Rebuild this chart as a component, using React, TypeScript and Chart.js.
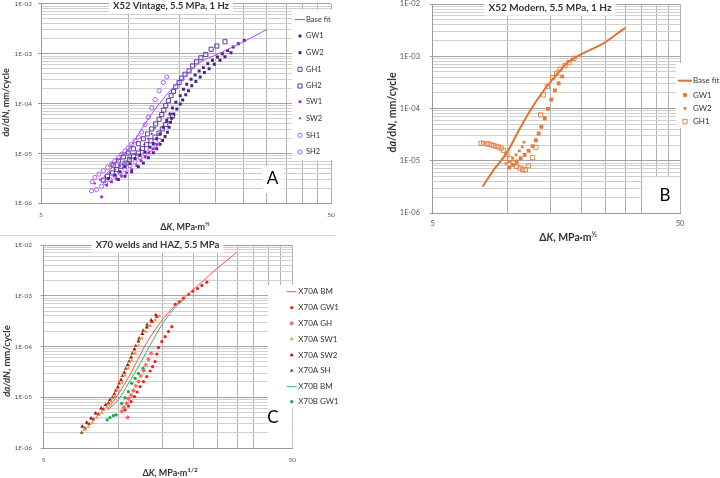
import React, { useEffect, useRef } from 'react';
import { Chart, registerables } from 'chart.js';

Chart.register(...registerables);

// ---------------- axes ----------------
const X_GRID = [5, 10, 15, 20, 25, 30, 35, 40, 45, 50];
const X_LABELED = [5, 50];
const Y_DECADES = [1e-6, 1e-5, 1e-4, 1e-3, 1e-2];
const Y_TICK_LABELS = ['1E-06', '1E-05', '1E-04', '1E-03', '1E-02'];
const Y_MINOR_MULT = [2, 3, 4, 5, 6, 7, 8, 9];

// ---------------- Panel A: X52 Vintage ----------------
const A_FIT_K = [8.2, 9.2, 10.2, 11.5, 12.8, 14.1, 15.8, 17.8, 20.3, 25.2, 30.0];
const A_FIT_Y = [3.2e-6, 7.2e-6, 1.4e-5, 4.2e-5, 1.0e-4, 1.95e-4, 3.7e-4, 6.9e-4, 9.8e-4, 1.79e-3, 3.06e-3];
const A_GW1_K = [8.53, 8.99, 9.36, 9.74, 10.13, 10.55, 10.97, 11.42, 11.88, 12.2, 12.53, 12.87, 13.2, 13.57, 13.93, 14.2, 14.58, 15.1, 15.5, 15.9, 16.46, 17.0, 17.55, 18.15, 18.8, 19.5, 20.3, 21.1, 22.0, 23.0, 23.95, 25.1];
const A_GW1_Y = [3.14e-6, 3.66e-6, 4.27e-6, 5.4e-6, 6.2e-6, 7.9e-6, 9.2e-6, 1.07e-5, 1.34e-5, 1.57e-5, 1.97e-5, 2.47e-5, 3.36e-5, 4.56e-5, 6.2e-5, 8.2e-5, 1.06e-4, 1.44e-4, 1.95e-4, 2.45e-4, 3.09e-4, 3.76e-4, 4.52e-4, 5.27e-4, 6.3e-4, 7.4e-4, 8.6e-4, 1.0e-3, 1.16e-3, 1.36e-3, 1.59e-3, 1.85e-3];
const A_GW2_K = [9.24, 9.74, 10.27, 10.83, 11.27, 11.72, 12.2, 12.53, 12.87, 13.14, 13.39, 13.64, 13.82, 13.97, 14.12, 14.35, 14.7, 15.1, 15.4, 15.78, 16.12, 16.55, 17.1, 17.7, 18.3, 19.0, 19.8, 20.7, 21.55, 22.6];
const A_GW2_Y = [3.0e-6, 3.5e-6, 4.27e-6, 5.4e-6, 6.4e-6, 8.2e-6, 1.03e-5, 1.24e-5, 1.52e-5, 1.82e-5, 2.19e-5, 2.67e-5, 3.36e-5, 4.2e-5, 5.1e-5, 6.2e-5, 7.8e-5, 9.8e-5, 1.18e-4, 1.51e-4, 1.81e-4, 2.28e-4, 2.77e-4, 3.43e-4, 4.19e-4, 5.0e-4, 6.14e-4, 7.4e-4, 8.7e-4, 1.05e-3];
const A_GH1_K = [21.55, 20.2, 19.3, 18.5, 17.8, 17.2, 16.65, 16.2, 15.69, 15.29, 14.97, 14.58, 14.31, 14.05, 13.75, 13.46, 13.25, 13.04, 12.77, 12.43, 12.04, 11.66, 11.27, 10.83, 10.41, 10.0, 9.61, 9.24, 8.87];
const A_GH1_Y = [1.74e-3, 1.43e-3, 1.23e-3, 9.7e-4, 8.3e-4, 6.9e-4, 5.7e-4, 4.52e-4, 3.88e-4, 3.23e-4, 2.65e-4, 2.17e-4, 1.76e-4, 1.44e-4, 1.14e-4, 9.1e-5, 7.4e-5, 6.0e-5, 4.85e-5, 3.91e-5, 3.1e-5, 2.47e-5, 1.97e-5, 1.57e-5, 1.24e-5, 1.02e-5, 8.5e-6, 7.1e-6, 5.8e-6];
const A_GH2_K = [8.2, 8.48, 8.8, 9.11, 9.43, 9.74, 10.08, 10.43, 10.83, 11.18, 11.56, 11.97, 12.36, 12.77, 13.1, 13.46, 13.82, 14.2];
const A_GH2_Y = [2.91e-6, 3.5e-6, 4.07e-6, 4.75e-6, 5.55e-6, 6.4e-6, 7.6e-6, 8.8e-6, 1.02e-5, 1.26e-5, 1.5e-5, 1.79e-5, 2.13e-5, 2.55e-5, 3.11e-5, 3.8e-5, 4.72e-5, 5.7e-5];
const A_SW1_K = [8.09, 8.42, 8.75, 9.11, 9.48, 9.87, 10.27, 10.69, 11.06, 11.42, 11.78, 12.2, 12.53];
const A_SW1_Y = [1.35e-6, 2.31e-6, 2.7e-6, 3.1e-6, 3.5e-6, 4.07e-6, 4.75e-6, 5.7e-6, 7.1e-6, 8.5e-6, 1.03e-5, 1.24e-5, 1.52e-5];
const A_SW2_K = [7.67, 7.98, 8.31, 8.65, 8.99, 9.36, 9.74, 10.13, 10.55, 10.97, 11.36, 11.72, 12.04, 12.36];
const A_SW2_Y = [2.5e-6, 2.99e-6, 3.5e-6, 4.07e-6, 4.75e-6, 5.55e-6, 6.4e-6, 7.9e-6, 9.9e-6, 1.2e-5, 1.52e-5, 1.97e-5, 2.47e-5, 3.26e-5];
const A_SH1_K = [13.57, 13.2, 12.77, 12.36, 12.04, 11.72, 11.42, 11.12, 10.83, 10.55, 10.27, 10.0, 9.74, 9.48, 9.24, 8.99, 8.75, 8.48, 8.2, 7.92, 7.67, 7.51];
const A_SH1_Y = [3.43e-4, 2.65e-4, 1.81e-4, 1.2e-4, 8.2e-5, 5.3e-5, 3.8e-5, 2.67e-5, 2.13e-5, 1.79e-5, 1.52e-5, 1.3e-5, 1.12e-5, 9.6e-6, 8.2e-6, 7.1e-6, 6.1e-6, 5.25e-6, 4.5e-6, 3.85e-6, 3.3e-6, 2.7e-6];
const A_SH2_K = [7.47, 7.77, 8.09, 8.35, 8.65, 8.99, 9.36, 9.74, 10.13, 10.55, 10.97, 11.42, 11.88, 12.36, 12.77];
const A_SH2_Y = [1.78e-6, 1.89e-6, 2.2e-6, 2.58e-6, 2.99e-6, 3.5e-6, 4.07e-6, 4.75e-6, 5.7e-6, 6.75e-6, 8.2e-6, 9.9e-6, 1.2e-5, 1.48e-5, 1.82e-5];

// ---------------- Panel B: X52 Modern ----------------
const B_FIT_K = [7.96, 8.93, 9.95, 11.27, 12.56, 13.8, 15.4, 17.4, 19.7, 24.5, 30.0];
const B_FIT_Y = [3.2e-6, 7.2e-6, 1.4e-5, 4.2e-5, 1.01e-4, 1.96e-4, 3.8e-4, 7.3e-4, 1.06e-3, 1.77e-3, 3.5e-3];
const B_GW1_K = [10.2, 10.53, 10.93, 11.34, 11.77, 12.22, 12.68, 13.07, 13.41, 13.75, 14.2, 14.62, 15.08, 15.6, 16.15, 16.7];
const B_GW1_Y = [7.4e-6, 8.35e-6, 9.67e-6, 1.12e-5, 1.3e-5, 1.55e-5, 1.9e-5, 2.47e-5, 3.32e-5, 4.45e-5, 6.51e-5, 9.8e-5, 1.48e-4, 2.23e-4, 3.04e-4, 4.08e-4];
const B_GW2_K = [9.9, 10.2, 10.53, 10.86, 11.2, 11.5, 11.7];
const B_GW2_Y = [8.86e-6, 9.67e-6, 1.12e-5, 1.3e-5, 1.55e-5, 1.84e-5, 2.26e-5];
const B_GH1_K = [7.85, 8.03, 8.27, 8.45, 8.63, 8.82, 9.01, 9.21, 9.45, 9.65, 9.96, 10.27, 10.6, 10.93, 11.27, 11.56, 11.85, 12.18, 12.68, 13.07, 13.66, 14.0, 14.54, 15.28, 15.86, 16.36, 17.13, 17.78, 18.63];
const B_GH1_Y = [2.17e-5, 2.14e-5, 2.11e-5, 2.08e-5, 2.01e-5, 1.95e-5, 1.89e-5, 1.84e-5, 1.74e-5, 1.59e-5, 1.34e-5, 1.09e-5, 9.0e-6, 7.8e-6, 7.21e-6, 6.8e-6, 6.7e-6, 8.0e-6, 1.15e-5, 1.79e-5, 7.54e-5, 1.82e-4, 2.63e-4, 3.9e-4, 4.72e-4, 5.64e-4, 6.6e-4, 7.55e-4, 9.14e-4];

// ---------------- Panel C: X70 welds and HAZ ----------------
const C_ABM_K = [9.04, 9.99, 10.96, 12.02, 12.99, 14.03, 15.17, 16.38, 17.97, 19.72, 21.98, 24.49, 29.9];
const C_ABM_Y = [5.8e-6, 1.17e-5, 2.45e-5, 5.85e-5, 1.2e-4, 2.12e-4, 3.6e-4, 5.55e-4, 8.4e-4, 1.26e-3, 2.0e-3, 3.22e-3, 7.17e-3];
const C_AGW1_K = [10.62, 10.96, 11.23, 11.59, 11.88, 12.21, 12.6, 12.99, 13.4, 13.7, 14.03, 14.25, 14.47, 14.93, 15.4, 15.88, 16.38, 16.9, 17.53, 18.25, 19.12, 19.9, 20.8, 21.64, 22.66];
const C_AGW1_Y = [5.61e-6, 6.7e-6, 8.2e-6, 1.03e-5, 1.27e-5, 1.62e-5, 2.03e-5, 2.55e-5, 3.29e-5, 4.01e-5, 5.04e-5, 7.1e-5, 9.5e-5, 1.25e-4, 1.56e-4, 1.97e-4, 2.46e-4, 6.78e-4, 7.6e-4, 9.0e-4, 1.07e-3, 1.23e-3, 1.39e-3, 1.6e-3, 1.85e-3];
const C_AGH_K = [10.89, 10.3, 10.52, 10.79, 10.96, 11.23, 11.48, 11.73, 12.02, 12.28, 12.59, 12.87, 13.19, 13.52];
const C_AGH_Y = [4.0e-6, 5.3e-6, 6.3e-6, 7.59e-6, 9.4e-6, 1.1e-5, 1.35e-5, 1.67e-5, 2.05e-5, 2.63e-5, 3.37e-5, 4.33e-5, 5.6e-5, 7.34e-5];
const C_ASW1_K = [7.29, 7.56, 7.85, 8.17, 8.56, 8.95, 9.33, 9.68, 9.99, 10.3, 10.62, 10.96, 11.3, 11.66, 12.02, 12.4, 12.87, 13.4, 14.03, 14.56];
const C_ASW1_Y = [2.27e-6, 2.64e-6, 3.17e-6, 3.97e-6, 4.98e-6, 6.3e-6, 8.2e-6, 1.07e-5, 1.39e-5, 1.94e-5, 2.71e-5, 3.72e-5, 5.25e-5, 7.34e-5, 1.03e-4, 1.45e-4, 1.97e-4, 2.55e-4, 3.33e-4, 4.0e-4];
const C_ASW2_K = [7.15, 7.45, 7.75, 8.09, 8.51, 8.88, 9.24, 9.62, 9.93, 10.24, 10.55, 10.89, 11.23, 11.59, 12.02, 12.47, 12.99, 13.61, 14.25];
const C_ASW2_Y = [2.64e-6, 3.17e-6, 3.84e-6, 4.83e-6, 6.07e-6, 7.05e-6, 8.84e-6, 1.16e-5, 1.57e-5, 2.19e-5, 3.05e-5, 4.33e-5, 6.1e-5, 8.8e-5, 1.26e-4, 1.77e-4, 2.39e-4, 3.09e-4, 3.88e-4];
const C_ASH_K = [7.11, 7.33, 7.61, 7.92, 8.3, 8.69, 9.1, 9.45, 9.74, 10.05, 10.37, 10.69, 11.03, 11.37, 11.73, 12.1, 12.56, 13.03, 13.52, 14.12];
const C_ASH_Y = [2.0e-6, 2.45e-6, 2.98e-6, 3.67e-6, 4.6e-6, 5.8e-6, 7.59e-6, 1.0e-5, 1.35e-5, 1.88e-5, 2.63e-5, 3.66e-5, 5.1e-5, 7.34e-5, 1.03e-4, 1.45e-4, 2.06e-4, 2.7e-4, 3.33e-4, 4.2e-4];
const C_BBM_K = [9.04, 9.99, 10.96, 12.02, 13.19, 14.25, 15.4, 16.9, 18.54];
const C_BBM_Y = [5.6e-6, 9.0e-6, 1.88e-5, 4.01e-5, 9.2e-5, 1.82e-4, 3.33e-4, 5.9e-4, 8.9e-4];
const C_BGW1_K = [9.0, 9.24, 9.53, 9.77, 10.3, 10.62, 10.96, 11.3, 11.66, 12.02, 12.55];
const C_BGW1_Y = [3.57e-6, 3.97e-6, 4.35e-6, 4.48e-6, 7.59e-6, 9.8e-6, 1.29e-5, 1.88e-5, 2.36e-5, 2.96e-5, 3.72e-5];

// ---------------- helpers ----------------
const FONT = 'Lato, "Open Sans", "DejaVu Sans", sans-serif';
const TEXT = '#333333';
const TICK = '#555555';

const Y_GRID: number[] = [];
Y_DECADES.forEach((d, i) => {
  Y_GRID.push(d);
  if (i < Y_DECADES.length - 1) Y_MINOR_MULT.forEach((m) => Y_GRID.push(Number((m * d).toPrecision(3))));
});
const decadeIndex = (v: number) => Y_DECADES.findIndex((d) => Math.abs(v / d - 1) < 1e-6);

const pts = (k: number[], y: number[]) => k.map((v, i) => ({ x: v, y: y[i] }));

function lineDs(label: string, k: number[], y: number[], color: string, width: number) {
  return {
    label, data: pts(k, y), showLine: true, borderColor: color, backgroundColor: color,
    borderWidth: width, pointRadius: 0, pointHoverRadius: 0, tension: 0.3, fill: false,
  };
}
function markDs(label: string, k: number[], y: number[], style: string, r: number, fill: string, stroke: string, bw: number) {
  return {
    label, data: pts(k, y), showLine: false, pointStyle: style, pointRadius: r, pointHoverRadius: r,
    pointBackgroundColor: fill, pointBorderColor: stroke, pointBorderWidth: bw,
    backgroundColor: fill, borderColor: stroke, borderWidth: bw,
  };
}

type Seg = { t: string; it?: boolean; sup?: boolean };

function drawRich(ctx: CanvasRenderingContext2D, segs: Seg[], x: number, y: number, size: number, rot: number) {
  ctx.save();
  ctx.translate(x, y);
  ctx.rotate(rot);
  const f = (s: Seg) => `${s.it ? 'italic ' : ''}bold ${s.sup ? size * 0.7 : size}px ${FONT}`;
  let total = 0;
  segs.forEach((s) => { ctx.font = f(s); total += ctx.measureText(s.t).width; });
  let cx = -total / 2;
  ctx.textAlign = 'left';
  ctx.textBaseline = 'middle';
  ctx.fillStyle = TEXT;
  segs.forEach((s) => {
    ctx.font = f(s);
    ctx.fillText(s.t, cx, s.sup ? -size * 0.35 : 0);
    cx += ctx.measureText(s.t).width;
  });
  ctx.restore();
}

function drawMarker(ctx: CanvasRenderingContext2D, style: string, r: number, x: number, y: number, fill: string, stroke: string, bw: number) {
  ctx.save();
  ctx.beginPath();
  if (style === 'rect') {
    const s = r * Math.SQRT1_2;
    ctx.rect(x - s, y - s, 2 * s, 2 * s);
  } else if (style === 'rectRot') {
    ctx.moveTo(x, y - r); ctx.lineTo(x + r, y); ctx.lineTo(x, y + r); ctx.lineTo(x - r, y); ctx.closePath();
  } else if (style === 'triangle') {
    let a = 0;
    ctx.moveTo(x + Math.sin(a) * r, y - Math.cos(a) * r);
    a += (2 * Math.PI) / 3; ctx.lineTo(x + Math.sin(a) * r, y - Math.cos(a) * r);
    a += (2 * Math.PI) / 3; ctx.lineTo(x + Math.sin(a) * r, y - Math.cos(a) * r);
    ctx.closePath();
  } else if (style === 'star') {
    for (let i = 0; i < 4; i++) {
      const a = (i * Math.PI) / 4;
      ctx.moveTo(x - Math.cos(a) * r, y - Math.sin(a) * r);
      ctx.lineTo(x + Math.cos(a) * r, y + Math.sin(a) * r);
    }
  } else {
    ctx.arc(x, y, r, 0, Math.PI * 2);
  }
  if (style !== 'star') { ctx.fillStyle = fill; ctx.fill(); }
  if (bw > 0) { ctx.lineWidth = bw; ctx.strokeStyle = stroke; ctx.stroke(); }
  ctx.restore();
}

interface Spec {
  w: number; h: number;
  area: { l: number; t: number; r: number; b: number };
  tickSize: number; xPad: number; yPad: number;
  datasets: any[];
  title: { text: string; x: number; y: number; size: number };
  yTitle: { segs: Seg[]; x: number; y: number; size: number };
  xTitle: { segs: Seg[]; x: number; y: number; size: number };
  legend: { box: number[]; rows: number[]; mx: number; half: number; tx: number; size: number };
  letter: { text: string; x: number; y: number; size: number; box: number[] };
  sep?: number;
}

function makeDecor(p: Spec) {
  return {
    id: 'decor',
    afterDraw(chart: any) {
      const ctx = chart.ctx as CanvasRenderingContext2D;
      ctx.save();
      if (p.sep) {
        ctx.strokeStyle = '#D4D4D4'; ctx.lineWidth = 1;
        ctx.beginPath(); ctx.moveTo(0, 0.5); ctx.lineTo(p.sep, 0.5); ctx.stroke();
      }
      // title with white box
      ctx.font = `bold ${p.title.size}px ${FONT}`;
      const tw = ctx.measureText(p.title.text).width;
      ctx.fillStyle = '#ffffff';
      ctx.fillRect(p.title.x - tw / 2 - 4, p.title.y - p.title.size * 0.8, tw + 8, p.title.size * 1.6);
      ctx.fillStyle = TEXT; ctx.textAlign = 'center'; ctx.textBaseline = 'middle';
      ctx.fillText(p.title.text, p.title.x, p.title.y);
      // legend
      const L = p.legend;
      ctx.fillStyle = '#ffffff';
      ctx.fillRect(L.box[0], L.box[1], L.box[2], L.box[3]);
      chart.data.datasets.forEach((ds: any, i: number) => {
        const y = L.rows[i];
        if (ds.showLine) {
          ctx.strokeStyle = ds.borderColor; ctx.lineWidth = ds.borderWidth;
          ctx.beginPath(); ctx.moveTo(L.mx - L.half, y); ctx.lineTo(L.mx + L.half, y); ctx.stroke();
        } else {
          drawMarker(ctx, ds.pointStyle, ds.pointRadius, L.mx, y, ds.pointBackgroundColor, ds.pointBorderColor, ds.pointBorderWidth);
        }
        ctx.font = `${L.size}px ${FONT}`;
        ctx.fillStyle = TEXT; ctx.textAlign = 'left'; ctx.textBaseline = 'middle';
        ctx.fillText(ds.label, L.tx, y);
      });
      // panel letter
      const T = p.letter;
      ctx.fillStyle = '#ffffff';
      ctx.fillRect(T.box[0], T.box[1], T.box[2], T.box[3]);
      ctx.font = `${T.size}px ${FONT}`;
      ctx.fillStyle = '#000000'; ctx.textAlign = 'center'; ctx.textBaseline = 'middle';
      ctx.fillText(T.text, T.x, T.y);
      // axis titles
      drawRich(ctx, p.yTitle.segs, p.yTitle.x, p.yTitle.y, p.yTitle.size, -Math.PI / 2);
      drawRich(ctx, p.xTitle.segs, p.xTitle.x, p.xTitle.y, p.xTitle.size, 0);
      ctx.restore();
    },
  };
}

function buildConfig(p: Spec): any {
  const tickFont = { family: FONT, size: p.tickSize };
  return {
    type: 'scatter',
    data: { datasets: p.datasets },
    options: {
      responsive: false,
      animation: false,
      devicePixelRatio: 1,
      events: [],
      layout: { padding: { left: 0, top: p.area.t, right: p.w - p.area.r, bottom: 0 } },
      plugins: { legend: { display: false }, tooltip: { enabled: false }, title: { display: false } },
      scales: {
        x: {
          type: 'logarithmic', min: 5, max: 50,
          afterBuildTicks: (s: any) => { s.ticks = X_GRID.map((v) => ({ value: v })); },
          ticks: {
            autoSkip: false, maxRotation: 0, minRotation: 0, font: tickFont, color: TICK, padding: p.xPad,
            callback: (v: number) => (X_LABELED.includes(v) ? String(v) : ''),
          },
          grid: { color: '#B2B2B2', lineWidth: 1, drawTicks: false },
          border: { color: '#9A9A9A', width: 1 },
          afterFit: (s: any) => { s.height = p.h - p.area.b; s.paddingLeft = 0; s.paddingRight = 0; },
        },
        y: {
          type: 'logarithmic', min: 1e-6, max: 1e-2,
          afterBuildTicks: (s: any) => { s.ticks = Y_GRID.map((v) => ({ value: v })); },
          ticks: {
            autoSkip: false, font: tickFont, color: TICK, padding: p.yPad,
            callback: (v: number) => { const i = decadeIndex(v); return i >= 0 ? Y_TICK_LABELS[i] : ''; },
          },
          grid: {
            lineWidth: 1,
            color: (c: any) => (c.tick && decadeIndex(c.tick.value) >= 0 ? '#A3A3A3' : '#D0D0D0'),
            tickColor: (c: any) => (c.tick && decadeIndex(c.tick.value) >= 0 ? '#9A9A9A' : 'rgba(0,0,0,0)'),
            tickLength: 3,
          },
          border: { color: '#9A9A9A', width: 1 },
          afterFit: (s: any) => { s.width = p.area.l; s.paddingTop = 0; s.paddingBottom = 0; },
        },
      },
    },
    plugins: [makeDecor(p)],
  };
}

// ---------------- panel specs ----------------
const PURPLE_DARK = '#4A2388';
const PURPLE_OPEN = '#5E3A9E';
const VIOLET = '#A020F0';
const VIOLET_OPEN = '#B35CF5';

const Y_SEGS: Seg[] = [{ t: 'd' }, { t: 'a', it: true }, { t: '/d' }, { t: 'N', it: true }, { t: ', mm/cycle' }];
const X_SEGS: Seg[] = [{ t: 'Δ' }, { t: 'K', it: true }, { t: ', MPa·m' }, { t: '½', sup: true }];

const specA: Spec = {
  w: 360, h: 235,
  area: { l: 41, t: 2.5, r: 331, b: 203.3 },
  tickSize: 6.5, xPad: 8, yPad: 6,
  datasets: [
    lineDs('Base fit', A_FIT_K, A_FIT_Y, '#A64BFF', 1),
    markDs('GW1', A_GW1_K, A_GW1_Y, 'rect', 2.1, PURPLE_DARK, PURPLE_DARK, 0),
    markDs('GW2', A_GW2_K, A_GW2_Y, 'rect', 2.1, PURPLE_DARK, PURPLE_DARK, 0),
    markDs('GH1', A_GH1_K, A_GH1_Y, 'rect', 2.9, 'rgba(255,255,255,0)', PURPLE_OPEN, 1),
    markDs('GH2', A_GH2_K, A_GH2_Y, 'rect', 2.9, 'rgba(255,255,255,0)', PURPLE_OPEN, 1),
    markDs('SW1', A_SW1_K, A_SW1_Y, 'rect', 1.9, VIOLET, VIOLET, 0),
    markDs('SW2', A_SW2_K, A_SW2_Y, 'rectRot', 1.4, VIOLET, VIOLET, 0),
    markDs('SH1', A_SH1_K, A_SH1_Y, 'circle', 2.1, 'rgba(255,255,255,0)', VIOLET_OPEN, 1),
    markDs('SH2', A_SH2_K, A_SH2_Y, 'circle', 2.1, 'rgba(255,255,255,0)', VIOLET_OPEN, 1),
  ],
  title: { text: 'X52 Vintage, 5.5 MPa, 1 Hz', x: 171, y: 6, size: 9.5 },
  yTitle: { segs: Y_SEGS, x: 6, y: 102.5, size: 9 },
  xTitle: { segs: X_SEGS, x: 185, y: 227.5, size: 9 },
  legend: { box: [292, 10, 42, 150], rows: [19.5, 36, 52.7, 69.3, 86, 101.7, 118.3, 135.3, 152], mx: 300, half: 5, tx: 306, size: 7.5 },
  letter: { text: 'A', x: 272.5, y: 179, size: 17, box: [262, 166, 22, 27] },
};

const ORANGE = '#E47A35';
const specB: Spec = {
  w: 360, h: 245,
  area: { l: 72.7, t: 4, r: 320, b: 213 },
  tickSize: 7.5, xPad: 6.5, yPad: 9.7,
  datasets: [
    lineDs('Base fit', B_FIT_K, B_FIT_Y, '#DD7430', 2),
    markDs('GW1', B_GW1_K, B_GW1_Y, 'rect', 2.7, ORANGE, ORANGE, 0),
    markDs('GW2', B_GW2_K, B_GW2_Y, 'rect', 1.9, ORANGE, ORANGE, 0),
    markDs('GH1', B_GH1_K, B_GH1_Y, 'rect', 3, 'rgba(255,255,255,0)', '#E2874D', 1),
  ],
  title: { text: 'X52 Modern, 5.5 MPa, 1 Hz', x: 190, y: 7.5, size: 10 },
  yTitle: { segs: Y_SEGS, x: 33, y: 112.5, size: 10.5 },
  xTitle: { segs: X_SEGS, x: 208, y: 238, size: 10.5 },
  legend: { box: [316, 63, 44, 65], rows: [80.7, 95, 108.3, 121.7], mx: 325, half: 7, tx: 333, size: 8 },
  letter: { text: 'B', x: 305, y: 196, size: 17, box: [283, 177, 37, 36] },
};

const specC: Spec = {
  w: 360, h: 243,
  area: { l: 43.7, t: 10, r: 292.3, b: 213 },
  tickSize: 6.5, xPad: 8.4, yPad: 8.7,
  datasets: [
    lineDs('X70A BM', C_ABM_K, C_ABM_Y, '#FF4D4D', 1),
    markDs('X70A GW1', C_AGW1_K, C_AGW1_Y, 'circle', 1.6, '#FF1A1A', '#FF1A1A', 0),
    markDs('X70A GH', C_AGH_K, C_AGH_Y, 'star', 2.2, '#FF5C5C', '#FF5C5C', 1),
    markDs('X70A SW1', C_ASW1_K, C_ASW1_Y, 'triangle', 2.3, '#F79646', '#F79646', 0),
    markDs('X70A SW2', C_ASW2_K, C_ASW2_Y, 'triangle', 2.3, '#C00000', '#C00000', 0),
    markDs('X70A SH', C_ASH_K, C_ASH_Y, 'triangle', 2.3, '#8E4A1C', '#8E4A1C', 0),
    lineDs('X70B BM', C_BBM_K, C_BBM_Y, '#2DB85A', 1),
    markDs('X70B GW1', C_BGW1_K, C_BGW1_Y, 'circle', 1.6, '#14A84A', '#14A84A', 0),
  ],
  title: { text: 'X70 welds and HAZ, 5.5 MPa', x: 157.5, y: 10, size: 9.5 },
  yTitle: { segs: [{ t: 'da/dN', it: true }, { t: ', mm/cycle' }], x: 6.7, y: 126, size: 9.5 },
  xTitle: { segs: [{ t: 'Δ' }, { t: 'K', it: true }, { t: ', MPa·m' }, { t: '1/2', sup: true }], x: 170, y: 238.5, size: 9 },
  legend: { box: [268, 50, 92, 123], rows: [56.7, 72.7, 88.3, 104, 120, 135.7, 151.7, 166.7], mx: 291.7, half: 5, tx: 298.3, size: 8 },
  letter: { text: 'C', x: 273, y: 182.5, size: 17, box: [268, 173, 24.3, 40] },
  sep: 335,
};

function Panel({ spec, left, top }: { spec: Spec; left: number; top: number }) {
  const ref = useRef<HTMLCanvasElement>(null);
  useEffect(() => {
    const chart = new Chart(ref.current as HTMLCanvasElement, buildConfig(spec));
    return () => chart.destroy();
  }, [spec]);
  return (
    <canvas
      ref={ref}
      width={spec.w}
      height={spec.h}
      style={{ position: 'absolute', left, top, width: spec.w, height: spec.h }}
    />
  );
}

export default function App() {
  return (
    <div style={{ position: 'absolute', left: 0, top: 0, width: 720, height: 478, background: '#ffffff', overflow: 'hidden' }}>
      <Panel spec={specA} left={0} top={0} />
      <Panel spec={specB} left={360} top={0} />
      <Panel spec={specC} left={0} top={235} />
    </div>
  );
}
